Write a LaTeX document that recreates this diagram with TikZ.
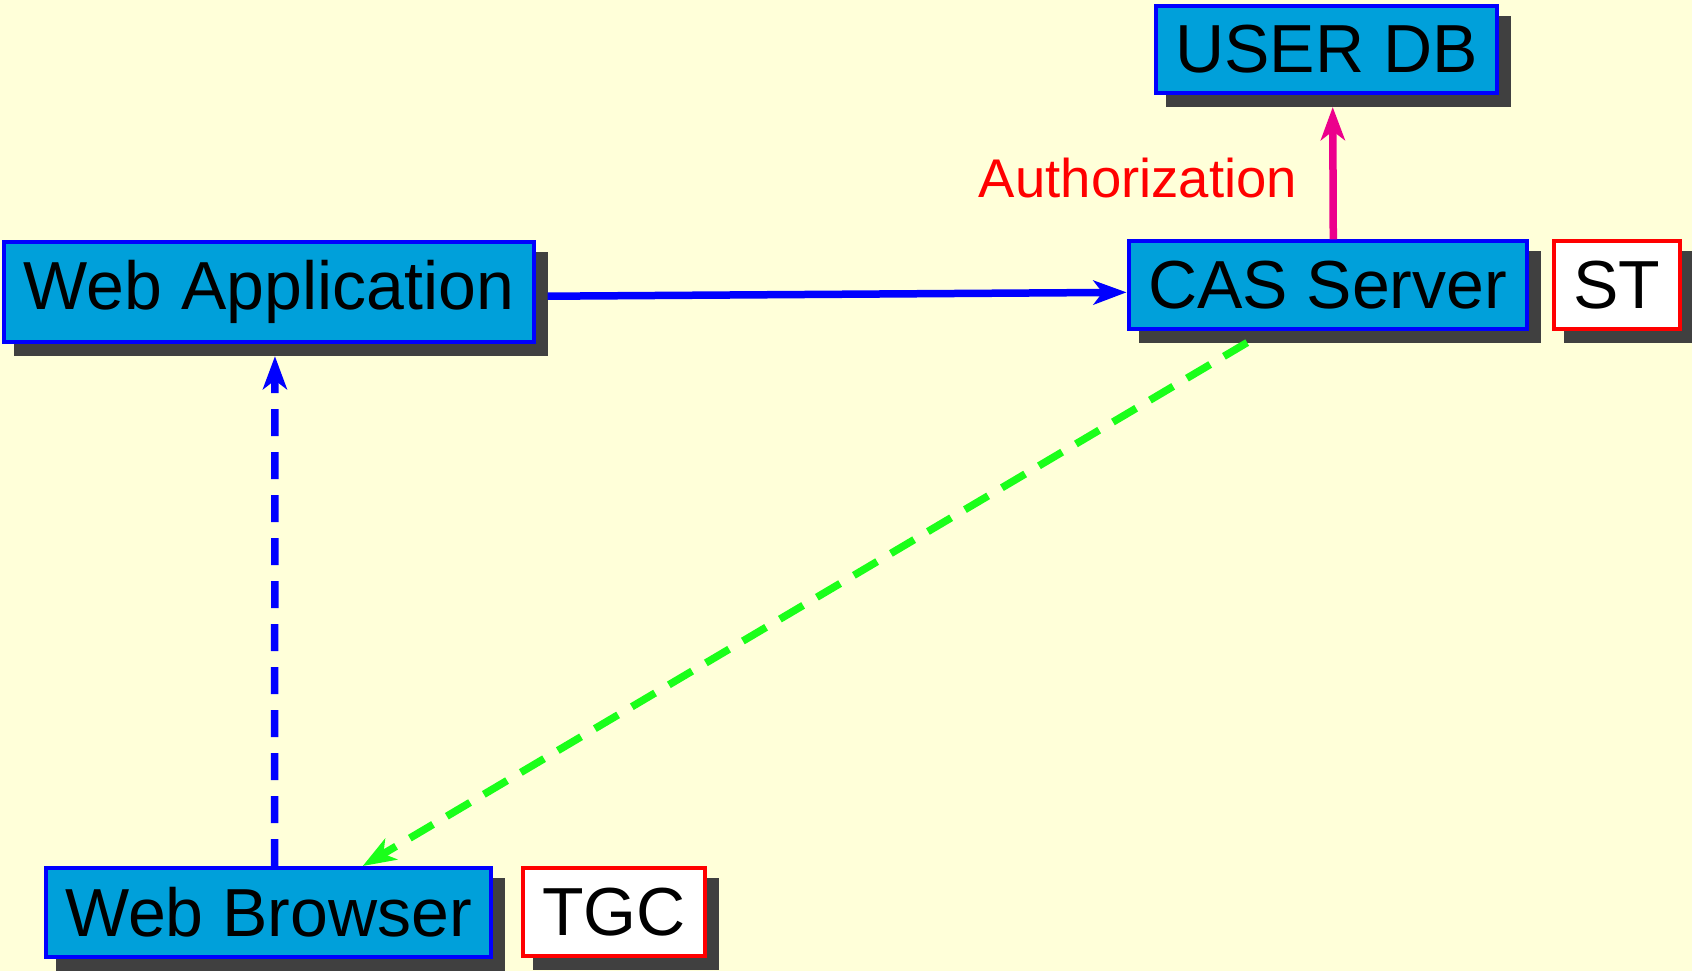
\documentclass[tikz,border=0pt]{standalone}
\usepackage{fontspec}
\setmainfont{Liberation Sans}
\usetikzlibrary{arrows.meta,fit,backgrounds}
\definecolor{bgyellow}{RGB}{255,255,217}
\definecolor{boxfill}{RGB}{0,160,218}
\definecolor{shadowgray}{RGB}{64,64,64}
\definecolor{magline}{RGB}{236,0,140}
\definecolor{greenline}{RGB}{26,255,26}
\tikzset{
  box/.style={draw=blue, fill=boxfill, line width=4pt, inner xsep=19.5pt, inner ysep=19.5pt,
    font=\fontsize{68}{80}\selectfont, text=black},
  tagbox/.style={box, draw=red, fill=white},
  hull/.style={draw=none, inner sep=0pt, outer sep=0pt},
  conn/.style={line width=7.5pt, -{Stealth[length=33pt,width=24pt,inset=9pt]}},
  dashpat/.style={dash pattern=on 27pt off 16pt},
  shadowfill/.style={fill=shadowgray},
  authlabel/.style={text=red, font=\fontsize{54.5}{64}\selectfont, anchor=base, inner sep=0pt}
}
\begin{document}
\begin{tikzpicture}[x=1pt,y=-1pt]
\useasboundingbox (0,0) rectangle (1692,971);
% boxes
\node[box, inner ysep=18.5pt] (wa) at (269,292) {Web Application};
\node[box] (cas) at (1327.5,285) {CAS Server};
\node[tagbox] (st) at (1617,285) {ST};
\node[box] (db) at (1326.5,49.5) {USER DB};
\node[box] (wb) at (268.5,912.5) {Web Browser};
\node[tagbox] (tgc) at (614,912) {TGC};
\node[authlabel] (auth) at (1138,197) {Authorization};
% shadow corners
\foreach \n in {wa,cas,st,db,wb,tgc}{
  \coordinate (\n-snw) at ([shift={(12,12)}]\n.north west);
  \coordinate (\n-sse) at ([shift={(12,12)}]\n.south east);
}
% hulls (box + shadow) for connectors
\node[hull, fit=(wa.north west)(wa-sse)] (wa-c) {};
\node[hull, fit=(cas.north west)(cas-sse)] (cas-c) {};
\node[hull, fit=(db.north west)(db-sse)] (db-c) {};
\node[hull, fit=(wb.north west)(wb-sse)] (wb-c) {};
% background and shadows
\begin{pgfonlayer}{background}
  \fill[bgyellow] (0,0) rectangle (1692,971);
  \foreach \n in {wa,cas,st,db,wb,tgc}{
    \fill[shadowfill] (\n-snw) rectangle (\n-sse);
  }
\end{pgfonlayer}
% connectors
\draw[conn, blue] (wa-c) -- (cas-c);
\draw[conn, magline] (cas-c) -- (db-c);
\draw[conn, blue, dashpat] (wb-c) -- (wa-c);
\draw[conn, greenline, dashpat] (cas-c) -- (wb-c);
\end{tikzpicture}
\end{document}
